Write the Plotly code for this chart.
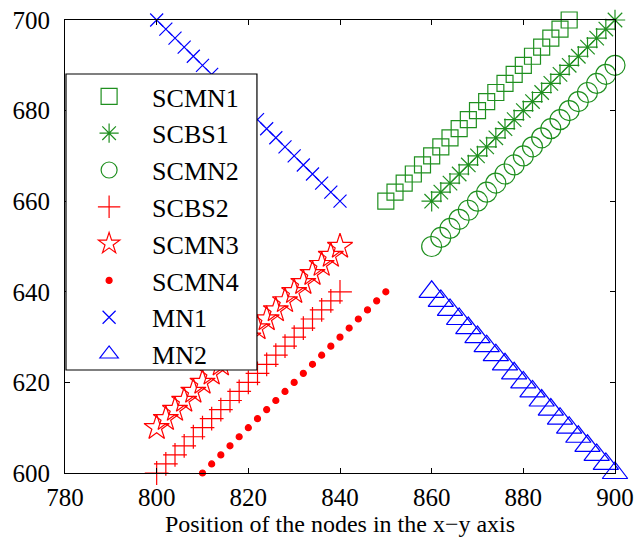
import plotly.graph_objects as go

# Data
scmn1_x = [850, 852, 854, 856, 858, 860, 862, 864, 866, 868, 870, 872, 874, 876, 878, 880, 882, 884, 886, 888, 890]
scmn1_y = [660, 662, 664, 666, 668, 670, 672, 674, 676, 678, 680, 682, 684, 686, 688, 690, 692, 694, 696, 698, 700]
scbs1_x = [860, 862, 864, 866, 868, 870, 872, 874, 876, 878, 880, 882, 884, 886, 888, 890, 892, 894, 896, 898, 900]
scbs1_y = [660, 662, 664, 666, 668, 670, 672, 674, 676, 678, 680, 682, 684, 686, 688, 690, 692, 694, 696, 698, 700]
scmn2_x = [860, 862, 864, 866, 868, 870, 872, 874, 876, 878, 880, 882, 884, 886, 888, 890, 892, 894, 896, 898, 900]
scmn2_y = [650, 652, 654, 656, 658, 660, 662, 664, 666, 668, 670, 672, 674, 676, 678, 680, 682, 684, 686, 688, 690]
scbs2_x = [800, 802, 804, 806, 808, 810, 812, 814, 816, 818, 820, 822, 824, 826, 828, 830, 832, 834, 836, 838, 840]
scbs2_y = [600, 602, 604, 606, 608, 610, 612, 614, 616, 618, 620, 622, 624, 626, 628, 630, 632, 634, 636, 638, 640]
scmn3_x = [800, 802, 804, 806, 808, 810, 812, 814, 816, 818, 820, 822, 824, 826, 828, 830, 832, 834, 836, 838, 840]
scmn3_y = [610, 612, 614, 616, 618, 620, 622, 624, 626, 628, 630, 632, 634, 636, 638, 640, 642, 644, 646, 648, 650]
scmn4_x = [810, 812, 814, 816, 818, 820, 822, 824, 826, 828, 830, 832, 834, 836, 838, 840, 842, 844, 846, 848, 850]
scmn4_y = [600, 602, 604, 606, 608, 610, 612, 614, 616, 618, 620, 622, 624, 626, 628, 630, 632, 634, 636, 638, 640]
mn1_x = [800, 802, 804, 806, 808, 810, 812, 814, 816, 818, 820, 822, 824, 826, 828, 830, 832, 834, 836, 838, 840]
mn1_y = [700, 698, 696, 694, 692, 690, 688, 686, 684, 682, 680, 678, 676, 674, 672, 670, 668, 666, 664, 662, 660]
mn2_x = [860, 862, 864, 866, 868, 870, 872, 874, 876, 878, 880, 882, 884, 886, 888, 890, 892, 894, 896, 898, 900]
mn2_y = [640, 638, 636, 634, 632, 630, 628, 626, 624, 622, 620, 618, 616, 614, 612, 610, 608, 606, 604, 602, 600]

x_ticks = [780, 800, 820, 840, 860, 880, 900]
y_ticks = [600, 620, 640, 660, 680, 700]

GREEN = "#1f8f1f"
RED = "#ff0000"
BLUE = "#0000ff"
FONT = "Liberation Serif"

series = [
    ("SCMN1", scmn1_x, scmn1_y, "square-open", 16, GREEN),
    ("SCBS1", scbs1_x, scbs1_y, "asterisk-open", 17, GREEN),
    ("SCMN2", scmn2_x, scmn2_y, "circle-open", 20, GREEN),
    ("SCBS2", scbs2_x, scbs2_y, "cross-thin-open", 17, RED),
    ("SCMN3", scmn3_x, scmn3_y, "star-open", 19, RED),
    ("SCMN4", scmn4_x, scmn4_y, "circle", 6, RED),
    ("MN1", mn1_x, mn1_y, "x-thin-open", 13, BLUE),
    ("MN2", mn2_x, mn2_y, "triangle-up-open", 22, BLUE),
]

fig = go.Figure()
for name, xs, ys, sym, size, col in series:
    fig.add_trace(go.Scatter(
        x=xs, y=ys, mode="markers", name=name, legendgroup=name,
        cliponaxis=False,
        marker=dict(symbol=sym, size=size, color=col,
                    line=dict(color=col, width=1.2)),
    ))

axis_common = dict(
    showgrid=False, zeroline=False, showline=True, linecolor="black",
    linewidth=1.2, mirror="ticks", ticks="inside", ticklen=5,
    tickcolor="black", tickfont=dict(family=FONT, size=25, color="black"),
    automargin=False,
)

# legend frame (white box behind the legend entries)
fig.add_shape(type="rect", xref="paper", yref="paper",
              x0=0.0018, x1=0.349, y0=0.2274, y1=0.8808,
              line=dict(color="black", width=1.2), fillcolor="white",
              layer="above")

fig.update_layout(
    width=635, height=537,
    margin=dict(l=65, r=20, t=20, b=64),
    paper_bgcolor="white", plot_bgcolor="white",
    font=dict(family=FONT, color="black"),
    xaxis=dict(range=[780, 900], tickvals=x_ticks, ticklabelstandoff=2,
               title=dict(text="Position of the nodes in the x\u2212y axis",
                          font=dict(family=FONT, size=24), standoff=6),
               **axis_common),
    yaxis=dict(range=[600, 700], tickvals=y_ticks, ticklabelstandoff=9,
               **axis_common),
    legend=dict(x=0.002, y=0.883, xanchor="left", yanchor="top",
                borderwidth=0, bgcolor="rgba(0,0,0,0)",
                font=dict(family=FONT, size=26, color="black"),
                tracegroupgap=0, itemwidth=76),
    showlegend=True,
)

fig.write_html("out.html")
